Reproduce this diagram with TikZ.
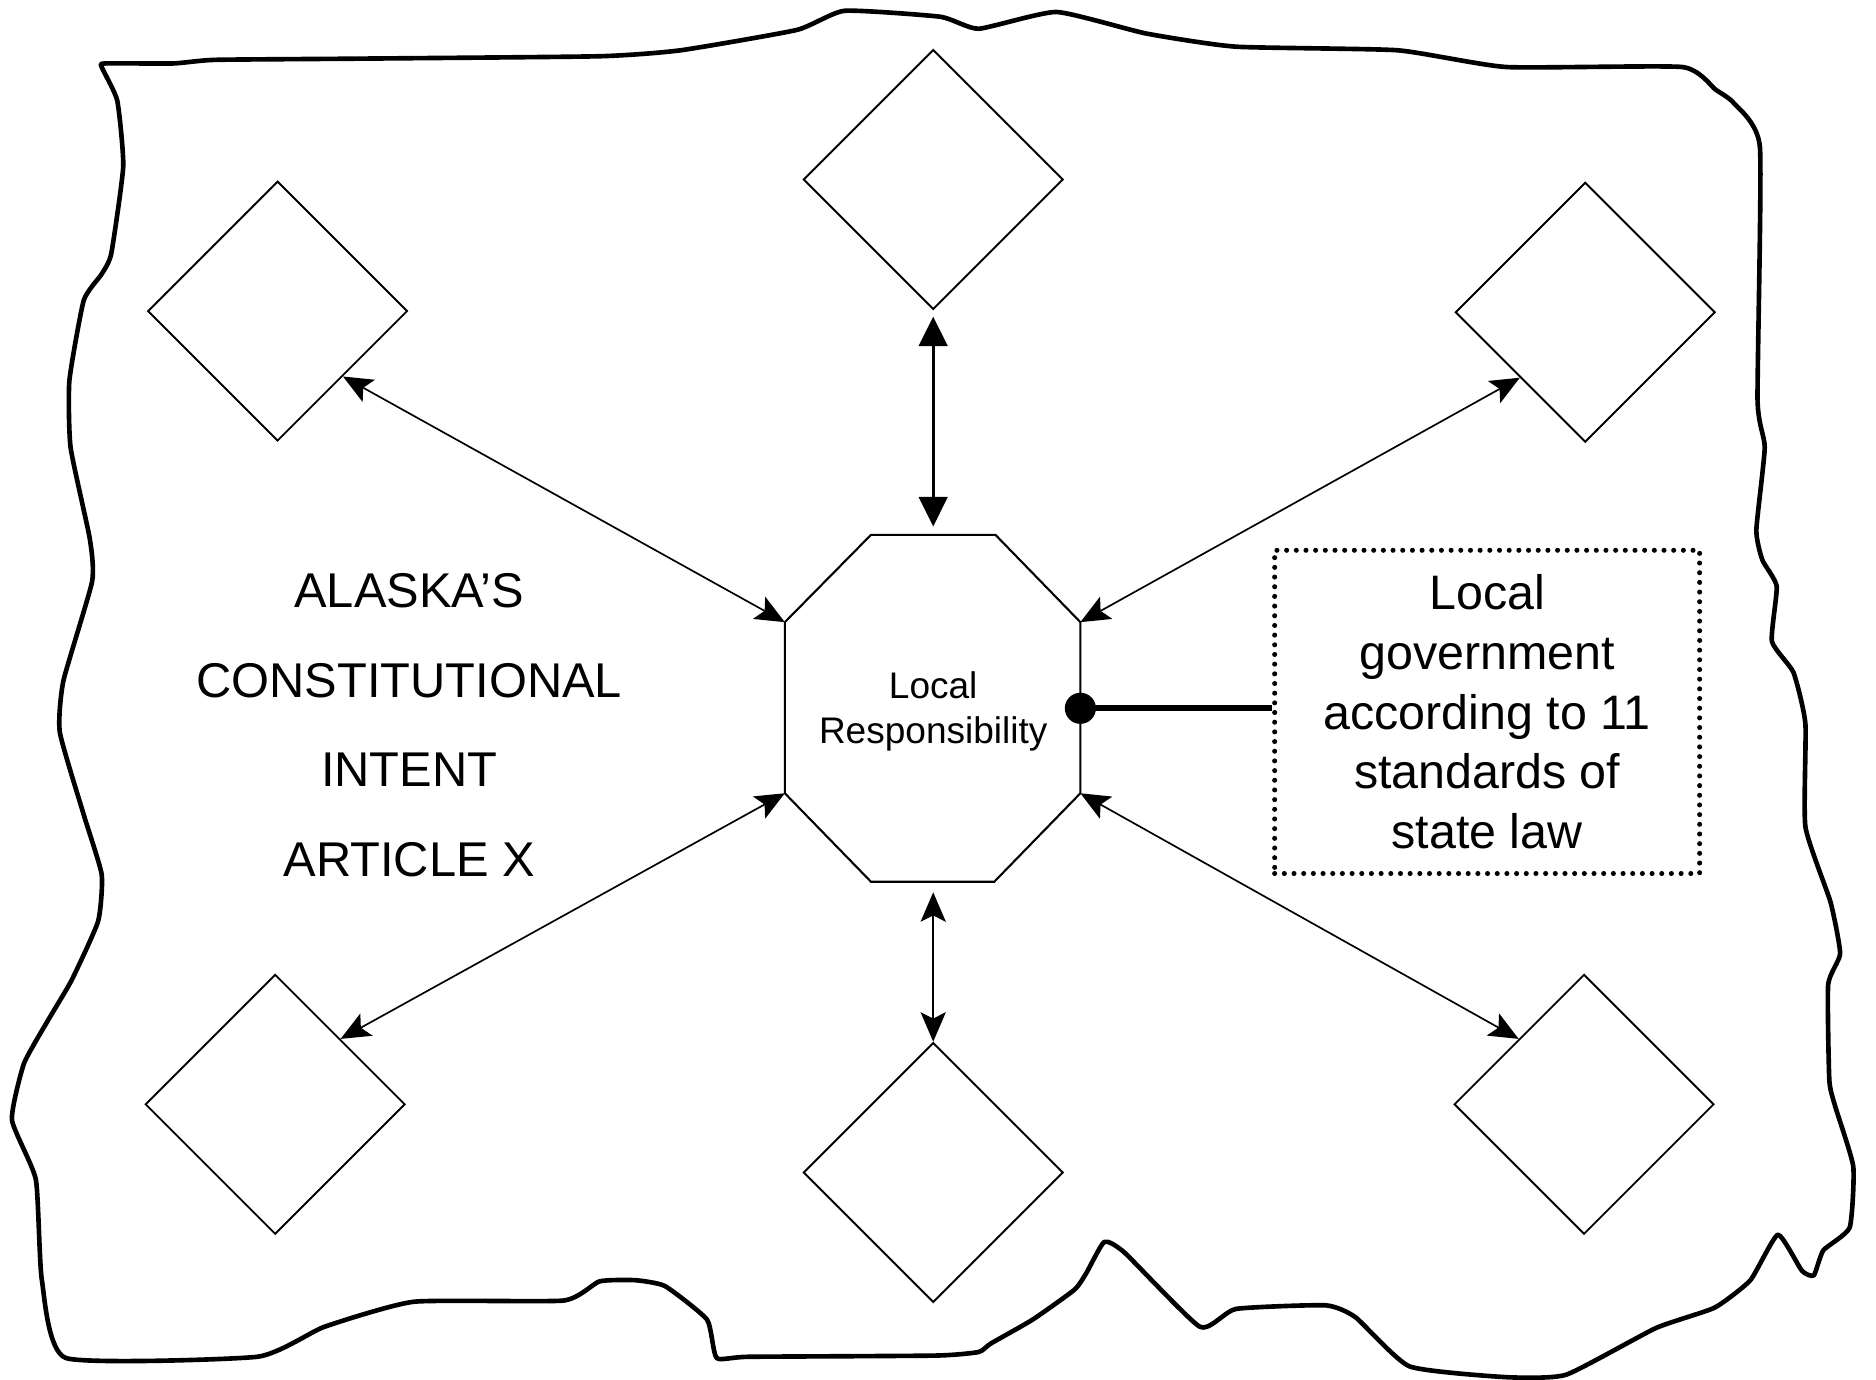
\documentclass[tikz,border=0pt]{standalone}
\usepackage{fontspec}
\setmainfont{Liberation Sans}
\usetikzlibrary{shapes.geometric,arrows.meta}
\tikzset{
  slot/.style={draw, diamond, aspect=1, minimum size=2.17cm, inner sep=0pt, line width=0.45pt},
  link/.style={{Stealth[length=7pt,width=6pt,inset=1.5pt]}-{Stealth[length=7pt,width=6pt,inset=1.5pt]}, line width=0.4pt},
}

\begin{document}
\begin{tikzpicture}[x=0.01cm, y=-0.01cm]
    \useasboundingbox (0,0) rectangle (1568,1153);
    \draw[line width=1.1pt, line join=round] plot[smooth cycle, tension=0.3] coordinates {
      (88,53) (145,53) (180,50) (300,49) (501,47) (569,42) (666,25) (706,9) (786,14)
      (818,24) (883,10) (958,28) (1033,39) (1168,42) (1259,56) (1406,56) (1434,75)
      (1449,86) (1471,123) (1469,334) (1475,374) (1468,443) (1473,468) (1485,490)
      (1481,536) (1499,562) (1509,605) (1509,691) (1530,754) (1538,797) (1528,823)
      (1529,903) (1534,925) (1549,975) (1546,1026) (1524,1045) (1516,1066) (1506,1062)
      (1486,1032) (1463,1070) (1433,1093) (1384,1110) (1309,1149) (1258,1151)
      (1178,1142) (1133,1101) (1108,1091) (1033,1094) (1003,1109) (940,1047) (923,1038)
      (908,1064) (898,1078) (863,1103) (828,1123) (818,1130) (782,1133) (626,1134)
      (599,1135) (591,1103) (556,1075) (531,1070) (501,1071) (471,1087) (346,1088)
      (271,1109) (215,1134) (55,1135) (35,1070) (30,986) (10,936) (20,889) (40,853)
      (60,819) (82,770) (85,731) (70,681) (50,612) (53,569) (77,486) (75,450)
      (59,374) (58,318) (70,251) (85,229) (93,212) (103,139) (98,84) (85,56)};

    \node[slot] (nw) at (232,260) {};
    \node[slot] (n) at (780,150) {};
    \node[slot] (ne) at (1325,261) {};
    \node[slot] (sw) at (230,923) {};
    \node[slot] (s) at (780,980) {};
    \node[slot] (se) at (1324,923) {};

    \coordinate (o1) at (728,447);
    \coordinate (o2) at (832,447);
    \coordinate (o3) at (903,520);
    \coordinate (o4) at (903,663);
    \coordinate (o5) at (831,737);
    \coordinate (o6) at (728,737);
    \coordinate (o7) at (656,663);
    \coordinate (o8) at (656,520);
    \coordinate (otop) at (780,447);
    \coordinate (obot) at (780,737);
    \draw[line width=0.5pt] (o1) -- (o2) -- (o3) -- (o4) -- (o5) -- (o6) -- (o7) -- (o8) -- cycle;
    \node[font=\fontsize{8.8}{10.7}\selectfont, align=center] (resp) at (780,595) {Local\\Responsibility};

    \node[font=\fontsize{11.6}{21.3}\selectfont, align=center] (intent) at (342,606)
      {ALASKA'S\\CONSTITUTIONAL\\INTENT\\ARTICLE X};

    \node[draw, line width=1.2pt, line cap=round, dash pattern=on 0pt off 2.3pt,
      minimum width=3.55cm, minimum height=2.7cm, align=center,
      font=\fontsize{11.5}{14.2}\selectfont] (govt) at (1243,595)
      {Local\\government\\according to 11\\standards of\\state law};

    \node[circle, fill, inner sep=0pt, minimum size=0.26cm] (dot) at (903,592) {};
    \draw[line width=1.4pt] (dot.center) -- (dot -| govt.west);

    \begin{scope}[link]
      \draw[line width=0.65pt, {Triangle[length=7pt,width=6.8pt]}-{Triangle[length=7pt,width=6.8pt]}, shorten <=1.5pt, shorten >=2pt] (n.south) -- (otop);
      \draw (nw.south east) -- (o8);
      \draw (ne.south west) -- (o3);
      \draw (o7) -- (sw.north east);
      \draw (o4) -- (se.north west);
      \draw[shorten <=2.5pt] (obot) -- (s.north);
    \end{scope}
\end{tikzpicture}
\end{document}
